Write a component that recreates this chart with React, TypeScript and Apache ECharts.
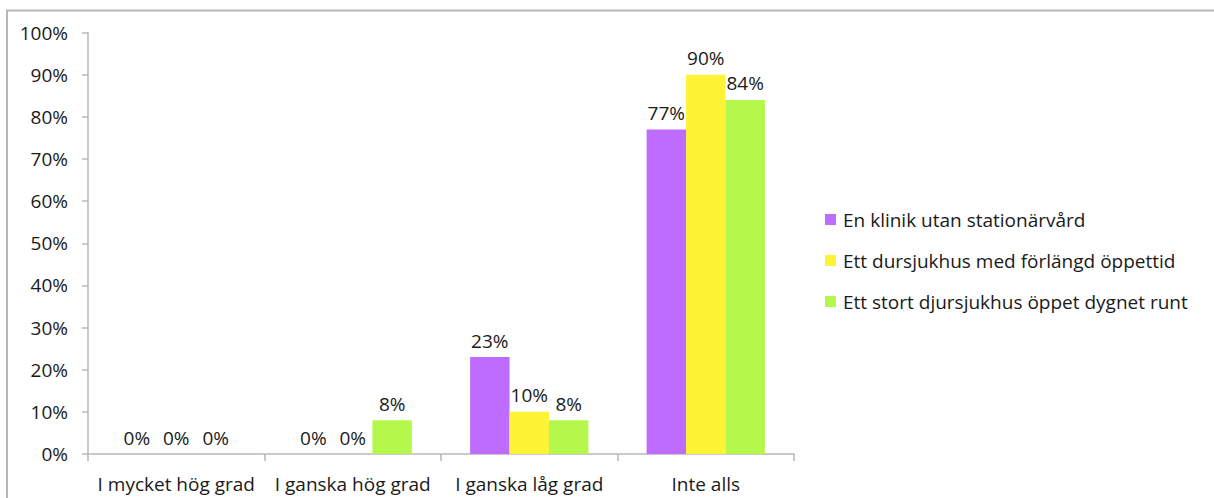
import React, { useEffect, useRef } from "react";
import * as echarts from "echarts";

// Answer categories on the x axis
const categories = ["I mycket hög grad", "I ganska hög grad", "I ganska låg grad", "Inte alls"];

// Share of respondents (%) per alternative
const seriesNames = [
  "En klinik utan stationärvård",
  "Ett dursjukhus med förlängd öppettid",
  "Ett stort djursjukhus öppet dygnet runt",
];
const klinikValues = [0, 0, 23, 77];
const dagsjukhusValues = [0, 0, 10, 90];
const djursjukhusValues = [0, 8, 8, 84];

const colors = ["#BE6BFF", "#FFF336", "#B5F84B"];
const FONT = "'Open Sans', 'Noto Sans', sans-serif";
const TEXT = "#1a1a1a";

export default function App() {
  const ref = useRef<HTMLDivElement>(null);

  useEffect(() => {
    if (!ref.current) return;
    const chart = echarts.init(ref.current, undefined, { renderer: "svg" });
    const values = [klinikValues, dagsjukhusValues, djursjukhusValues];

    chart.setOption({
      animation: false,
      backgroundColor: "#ffffff",
      textStyle: { fontFamily: FONT },
      graphic: [
        {
          type: "rect",
          shape: { x: 7, y: 10.5, width: 1400, height: 700 },
          style: { fill: "none", stroke: "#b8b8b8", lineWidth: 2 },
          silent: true,
          z: -1,
        },
      ],
      legend: {
        orient: "vertical",
        left: 825,
        top: 210,
        padding: 0,
        itemWidth: 11,
        itemHeight: 11,
        itemGap: 22,
        icon: "rect",
        textStyle: { fontFamily: FONT, fontSize: 19, color: TEXT, padding: [0, 0, 0, 2] },
        data: seriesNames,
      },
      grid: { left: 88, right: 420, top: 32.5, bottom: 44, containLabel: false },
      xAxis: {
        type: "category",
        data: categories,
        axisLine: { lineStyle: { color: "#b8b8b8", width: 1.5 } },
        axisTick: { show: true, length: 7, alignWithLabel: false, lineStyle: { color: "#b8b8b8", width: 1.5 } },
        axisLabel: { fontFamily: FONT, fontSize: 19, color: TEXT, margin: 20, interval: 0 },
      },
      yAxis: {
        type: "value",
        min: 0,
        max: 100,
        interval: 10,
        axisLine: { show: true, lineStyle: { color: "#b8b8b8", width: 1.5 } },
        axisTick: { show: true, length: 6, lineStyle: { color: "#b8b8b8", width: 1.5 } },
        splitLine: { show: false },
        axisLabel: { fontFamily: FONT, fontSize: 19, color: TEXT, margin: 20, formatter: "{value}%" },
      },
      series: seriesNames.map((name, i) => ({
        name,
        type: "bar",
        data: values[i],
        barGap: "0%",
        barCategoryGap: "33%",
        itemStyle: { color: colors[i] },
        label: {
          show: true,
          position: "top",
          distance: 7,
          formatter: "{c}%",
          fontFamily: FONT,
          fontSize: 19,
          color: TEXT,
        },
      })),
    });

    return () => chart.dispose();
  }, []);

  return (
    <div
      ref={ref}
      style={{ position: "fixed", left: 0, top: 0, width: 1214, height: 498 }}
    />
  );
}
